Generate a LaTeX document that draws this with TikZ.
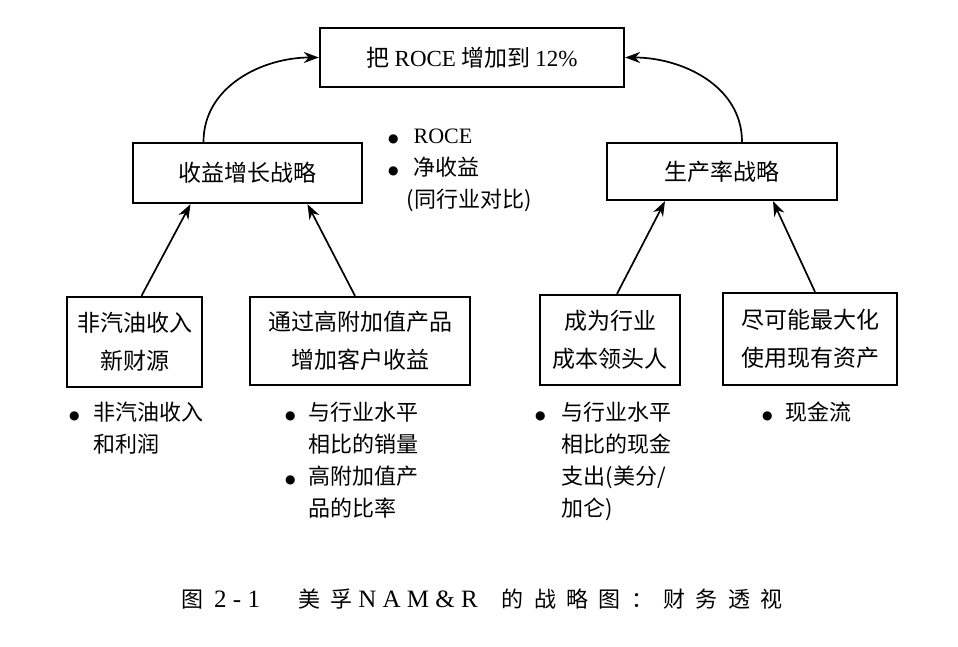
\documentclass[tikz,border=0pt]{standalone}
\usepackage{fontspec}
\setmainfont{Liberation Serif}
\newfontfamily\cjk{Noto Sans CJK SC}
\newfontfamily\symf{DejaVu Sans}
\newfontfamily\cjkcap[LetterSpace=47]{Noto Sans CJK SC}
\newfontfamily\romcap[LetterSpace=25]{Liberation Serif}
\usetikzlibrary{arrows.meta}

\newcommand\bul{\raisebox{1.5pt}{\symf\fontsize{12}{12}\selectfont ●}}

\tikzset{
  box/.style={draw, line width=2.3pt, align=center, inner sep=0pt,
    font=\cjk\fontsize{23}{38}\selectfont},
  notes/.style={anchor=north west, inner sep=0pt, align=left,
    font=\cjk\fontsize{22}{32}\selectfont},
  arr/.style={-{Stealth[length=15pt,width=11pt]}, line width=1.7pt}
}

\begin{document}
\begin{tikzpicture}[x=1pt, y=-1pt]
  \useasboundingbox (0,0) rectangle (958,646);

  % top goal
  \node[box, minimum width=304, minimum height=59] (goal) at (472,57.5)
    {把 \textrm{ROCE} 增加到 \textrm{12\%}};

  % two strategies
  \node[box, minimum width=229, minimum height=60] (rev) at (247.5,173)
    {收益增长战略};
  \node[box, minimum width=230, minimum height=57] (prod) at (722,171.5)
    {生产率战略};

  % measures of the goal
  \node[notes] (goalm) at (388,121) {%
    \begin{tabular}{@{}l@{\hspace{15pt}}l@{}}
      \bul & \textrm{ROCE}\\
      \bul & 净收益\\
       & \hspace{-7pt}(同行业对比)
    \end{tabular}};

  % four bottom boxes
  \node[box, minimum width=135, minimum height=90] (fuel) at (134.5,342)
    {非汽油收入\\新财源};
  \node[box, minimum width=220, minimum height=88] (cust) at (360,341)
    {通过高附加值产品\\增加客户收益};
  \node[box, minimum width=140, minimum height=90] (cost) at (610,340)
    {成为行业\\成本领头人};
  \node[box, minimum width=174, minimum height=92] (asset) at (810,339)
    {尽可能最大化\\使用现有资产};

  % their measures
  \node[notes] (fuelm) at (69,398) {%
    \begin{tabular}{@{}l@{\hspace{14pt}}l@{}}
      \bul & 非汽油收入\\
       & 和利润
    \end{tabular}};
  \node[notes] (custm) at (285,398) {%
    \begin{tabular}{@{}l@{\hspace{13pt}}l@{}}
      \bul & 与行业水平\\
       & 相比的销量\\
      \bul & 高附加值产\\
       & 品的比率
    \end{tabular}};
  \node[notes] (costm) at (535,398) {%
    \begin{tabular}{@{}l@{\hspace{16pt}}l@{}}
      \bul & 与行业水平\\
       & 相比的现金\\
       & 支出(美分/\\
       & 加仑)
    \end{tabular}};
  \node[notes] (assetm) at (762,398) {%
    \begin{tabular}{@{}l@{\hspace{13pt}}l@{}}
      \bul & 现金流
    \end{tabular}};

  % connectors
  \draw[arr] ([xshift=-44pt]rev.north) to[out=90, in=180] (goal.west);
  \draw[arr] ([xshift=20pt]prod.north) to[out=90, in=0] (goal.east);
  \draw[arr] ([xshift=7pt]fuel.north) -- ([xshift=-57pt]rev.south);
  \draw[arr] ([xshift=-5pt]cust.north) -- ([xshift=60pt]rev.south);
  \draw[arr] ([xshift=7pt]cost.north) -- ([xshift=-57pt]prod.south);
  \draw[arr] ([xshift=5pt]asset.north) -- ([xshift=51pt]prod.south);

  % caption
  \node[anchor=west, inner sep=0pt, font=\fontsize{22}{26}\selectfont] (cap) at (181,599)
    {{\cjkcap 图}\hspace{11pt}{\romcap\fontsize{25}{26}\selectfont 2-1}\hspace{38pt}{\cjkcap 美孚}\hspace{6pt}{\romcap\fontsize{25}{26}\selectfont NAM\&R}\hspace{24pt}{\cjkcap 的战略图：财务透视}};
\end{tikzpicture}
\end{document}
